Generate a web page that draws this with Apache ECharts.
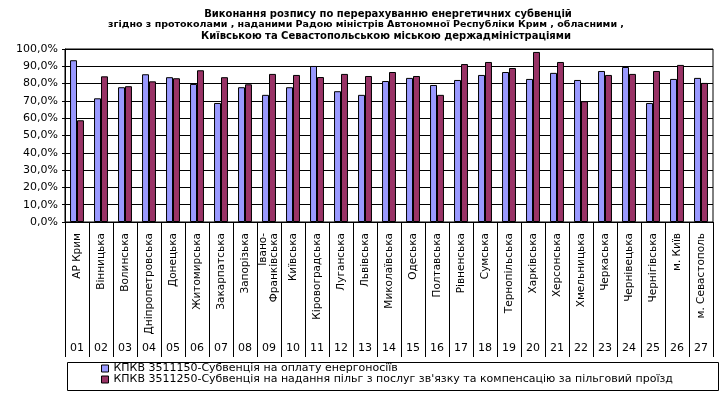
<!DOCTYPE html>
<html>
<head>
<meta charset="utf-8">
<script src="https://cdn.jsdelivr.net/npm/echarts@6/dist/echarts.min.js"></script>
<style>
html,body{margin:0;padding:0;background:#fff;}
#c{width:725px;height:395px;}
</style>
</head>
<body>
<div id="c"></div>
<script>
var titleLines = [
  'Виконання розпису по перерахуванню енергетичних субвенцій',
  'згідно з протоколами , наданими Радою міністрів Автономної Республіки Крим , обласними ,',
  'Київською та Севастопольською міською держадміністраціями'
];
var categories = ['АР Крим','Вінницька','Волинська','Дніпропетровська','Донецька','Житомирська','Закарпатська','Запорізька','Івано-\nФранківська','Київська','Кіровоградська','Луганська','Львівська','Миколаївська','Одеська','Полтавська','Рівненська','Сумська','Тернопільська','Харківська','Херсонська','Хмельницька','Черкаська','Чернівецька','Чернігівська','м. Київ','м. Севастополь'];
var codes = ['01','02','03','04','05','06','07','08','09','10','11','12','13','14','15','16','17','18','19','20','21','22','23','24','25','26','27'];
var seriesNames = ['КПКВ 3511150-Субвенція на оплату енергоносіїв','КПКВ 3511250-Субвенція на надання пільг з послуг зв\'язку та компенсацію за пільговий проїзд'];
var energy = [93.5,71.5,77.9,85.4,83.7,79.8,68.8,77.9,73.5,77.9,90.2,75.6,73.5,81.5,83.3,79.2,82.1,85.0,86.7,82.7,86.2,82.1,87.3,89.6,68.8,82.7,83.3];
var benefits = [58.8,84.2,78.5,81.3,83.1,87.7,83.7,79.6,85.6,85.0,83.8,85.6,84.4,86.7,84.4,73.5,91.3,92.5,89.0,98.3,92.5,69.8,85.0,85.6,87.3,90.8,80.4];
var yTicks = [0,10,20,30,40,50,60,70,80,90,100];

var FONT = 'DejaVu Sans';
var chart = echarts.init(document.getElementById('c'), null, {renderer:'canvas'});
chart.setOption({
  backgroundColor:'#ffffff',
  animation:false,
  textStyle:{fontFamily:FONT,color:'#000'},
  title:[
    {text:titleLines[0],left:388,top:9,textAlign:'center',padding:0,textStyle:{fontFamily:FONT,fontSize:10,fontWeight:'bold',color:'#000'}},
    {text:titleLines[1],left:366,top:20,textAlign:'center',padding:0,textStyle:{fontFamily:FONT,fontSize:9.5,fontWeight:'bold',color:'#000'}},
    {text:titleLines[2],left:386,top:31,textAlign:'center',padding:0,textStyle:{fontFamily:FONT,fontSize:10,fontWeight:'bold',color:'#000'}}
  ],
  grid:{left:65,right:12,top:49,bottom:173,show:true,borderColor:'#000',borderWidth:1,backgroundColor:'#fff',containLabel:false},
  legend:{
    orient:'vertical',left:101,top:363,padding:0,itemGap:0,itemWidth:7,itemHeight:7,icon:'rect',
    itemStyle:{borderColor:'#000',borderWidth:1},
    textStyle:{fontFamily:FONT,fontSize:11,color:'#000',lineHeight:10},
    data:seriesNames
  },
  graphic:[{type:'rect',left:65,top:360,shape:{width:651,height:28},style:{fill:'none',stroke:'#000',lineWidth:1},z:-1}],
  xAxis:[
    {type:'category',data:categories,boundaryGap:true,
      axisLine:{show:true,lineStyle:{color:'#000',width:1}},
      axisTick:{show:true,interval:0,length:135,lineStyle:{color:'#000',width:1}},
      axisLabel:{interval:0,rotate:90,margin:11,fontFamily:FONT,fontSize:10.5,color:'#000',lineHeight:11},
      splitLine:{show:false}},
    {type:'category',data:codes,position:'bottom',offset:121,boundaryGap:true,
      axisLine:{show:false},axisTick:{show:false},
      axisLabel:{interval:0,margin:0,fontFamily:FONT,fontSize:11,color:'#000'},
      splitLine:{show:false}}
  ],
  yAxis:{type:'value',min:0,max:100,interval:10,
    axisLine:{show:true,lineStyle:{color:'#000'}},
    axisTick:{show:true,length:3,lineStyle:{color:'#000'}},
    axisLabel:{fontFamily:FONT,fontSize:11,color:'#000',margin:7,
      formatter:function(v){return v.toFixed(1).replace('.',',')+'%';}},
    splitLine:{show:true,lineStyle:{color:'#000',width:1}}
  },
  series:[
    {name:seriesNames[0],type:'bar',data:energy,barGap:'0%',barCategoryGap:'42%',
      itemStyle:{color:'#9999FF',borderColor:'#000',borderWidth:1}},
    {name:seriesNames[1],type:'bar',data:benefits,barGap:'0%',barCategoryGap:'42%',
      itemStyle:{color:'#993366',borderColor:'#000',borderWidth:1}}
  ]
});
</script>
</body>
</html>
